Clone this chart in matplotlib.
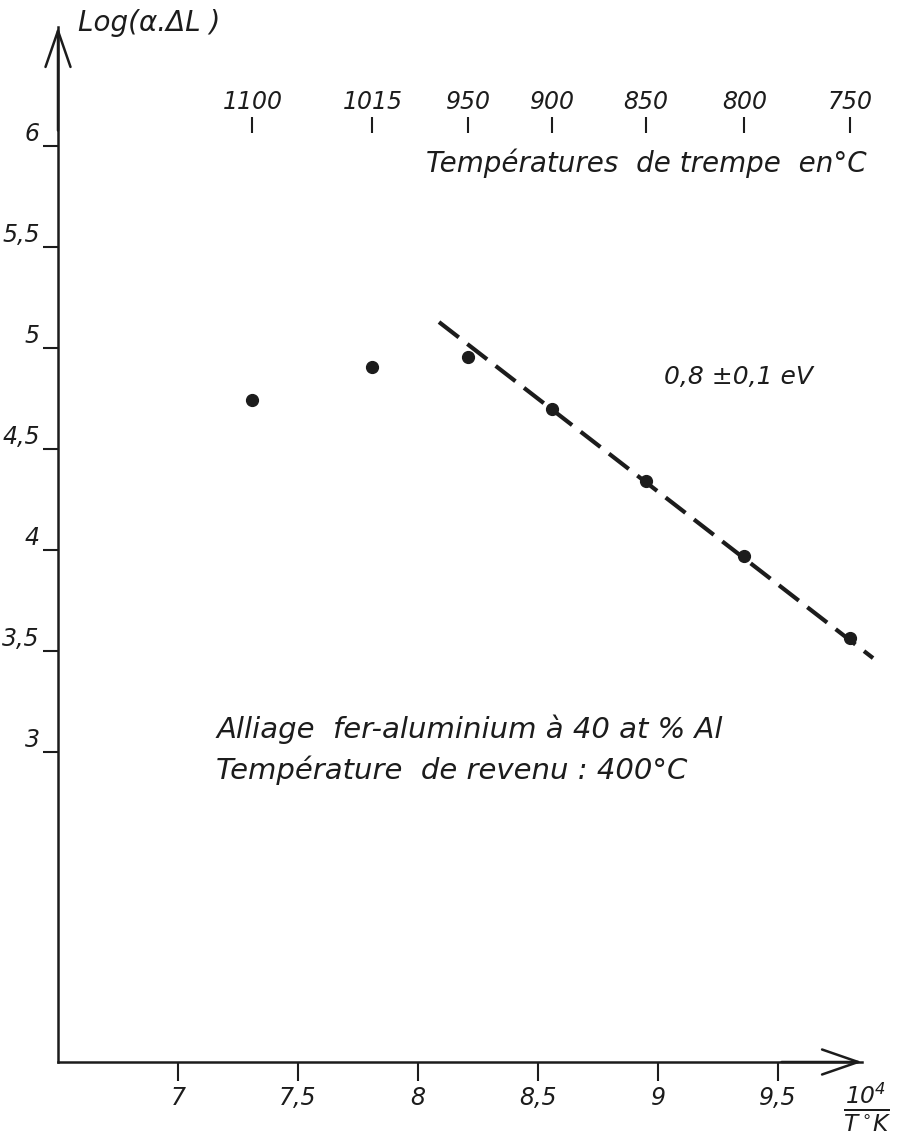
"""
Arrhenius plot — Log(alpha.dL) against 10^4/T for a Fe-Al 40 at% alloy,
quenched from several temperatures and tempered at 400 °C.
"""

import matplotlib
matplotlib.use("Agg")

import matplotlib.pyplot as plt

# ── Data ─────────────────────────────────────────────────────────────

# quench temperatures (°C) and where the drawing puts them on the 10^4/T axis
quench_temps = ["1100", "1015", "950", "900", "850", "800", "750"]
inv_temp = [7.31, 7.81, 8.21, 8.56, 8.95, 9.36, 9.80]

# measured Log(alpha.dL), one point per quench temperature
log_dl = [4.743, 4.906, 4.955, 4.698, 4.342, 3.970, 3.564]

# dashed fit through the high-temperature points (0,8 ± 0,1 eV)
fit_x = [8.0875, 9.896]
fit_y = [5.129, 3.465]

x_ticks = [7, 7.5, 8, 8.5, 9, 9.5]
x_tick_labels = ["7", "7,5", "8", "8,5", "9", "9,5"]
y_ticks = [3, 3.5, 4, 4.5, 5, 5.5, 6]
y_tick_labels = ["3", "3,5", "4", "4,5", "5", "5,5", "6"]

# ── Style ────────────────────────────────────────────────────────────

INK = "#1c1c1c"
FONT_SIZE_TEXT = 20
FONT_SIZE_TICK = 17

plt.rcParams.update({
    "font.family": "DejaVu Sans",
    "font.style": "italic",
    "mathtext.fontset": "dejavusans",
    "text.color": INK,
})

X_MIN, X_MAX = 6.5, 9.85
Y_MIN, Y_MAX = 1.465, 6.59


def arrhenius_chart(filename="out.png"):
    fig = plt.figure(figsize=(8.98, 11.41), dpi=100)
    fig.patch.set_facecolor("white")
    ax = fig.add_axes([58 / 898, 79 / 1141, 804 / 898, 1035 / 1141])
    ax.set_xlim(X_MIN, X_MAX)
    ax.set_ylim(Y_MIN, Y_MAX)
    ax.patch.set_alpha(0)

    for side in ("top", "right"):
        ax.spines[side].set_visible(False)
    for side in ("left", "bottom"):
        ax.spines[side].set_linewidth(1.8)
        ax.spines[side].set_color(INK)

    # open arrowheads on both axes
    arrow = dict(arrowstyle="->,head_length=2.6,head_width=0.9", lw=1.8, color=INK,
                 shrinkA=0, shrinkB=0)
    ax.annotate("", xy=(1.0, 0), xytext=(0.9, 0), xycoords="axes fraction",
                arrowprops=arrow, annotation_clip=False)
    ax.annotate("", xy=(0, 1.0), xytext=(0, 0.9), xycoords="axes fraction",
                arrowprops=arrow, annotation_clip=False)

    # ticks
    ax.set_xticks(x_ticks)
    ax.set_xticklabels(x_tick_labels, fontsize=FONT_SIZE_TICK)
    ax.set_yticks(y_ticks)
    ax.set_yticklabels(y_tick_labels, fontsize=FONT_SIZE_TICK)
    ax.tick_params(axis="x", direction="out", length=14, width=1.5, pad=3, colors=INK)
    ax.tick_params(axis="y", direction="out", length=11, width=1.5, pad=2, colors=INK)
    for lab in ax.get_yticklabels():
        lab.set_va("bottom")

    # data points + fit
    ax.plot(fit_x, fit_y, color=INK, linewidth=3.0, linestyle=(0, (6.0, 2.6)),
            solid_capstyle="butt", clip_on=False)
    ax.plot(inv_temp, log_dl, "o", color=INK, markersize=8.5, clip_on=False)

    # quench temperature scale across the top
    ax.vlines(inv_temp, 6.064, 6.144, color=INK, linewidth=1.5)
    for xv, t in zip(inv_temp, quench_temps):
        ax.text(xv, 6.16, t, ha="center", va="bottom", fontsize=17)
    ax.text(9.871, 5.916, "Températures  de trempe  en°C", ha="right", va="center",
            fontsize=FONT_SIZE_TEXT)

    # annotations
    ax.text(6.583, 6.609, "Log(α.ΔL )", ha="left", va="center", fontsize=FONT_SIZE_TEXT,
            clip_on=False)
    ax.text(9.025, 4.856, "0,8 ±0,1 eV", ha="left", va="center", fontsize=18)
    ax.text(7.16, 3.114, "Alliage  fer-aluminium à 40 at % Al", ha="left", va="center",
            fontsize=21)
    ax.text(7.16, 2.911, "Température  de revenu : 400°C", ha="left", va="center",
            fontsize=21)
    ax.text(9.871, 1.243, r"$\frac{10^{4}}{T\,^{\circ}K}$", ha="center", va="center",
            fontsize=24, clip_on=False)

    fig.savefig(filename, dpi=100, facecolor="white")
    return fig


arrhenius_chart()
